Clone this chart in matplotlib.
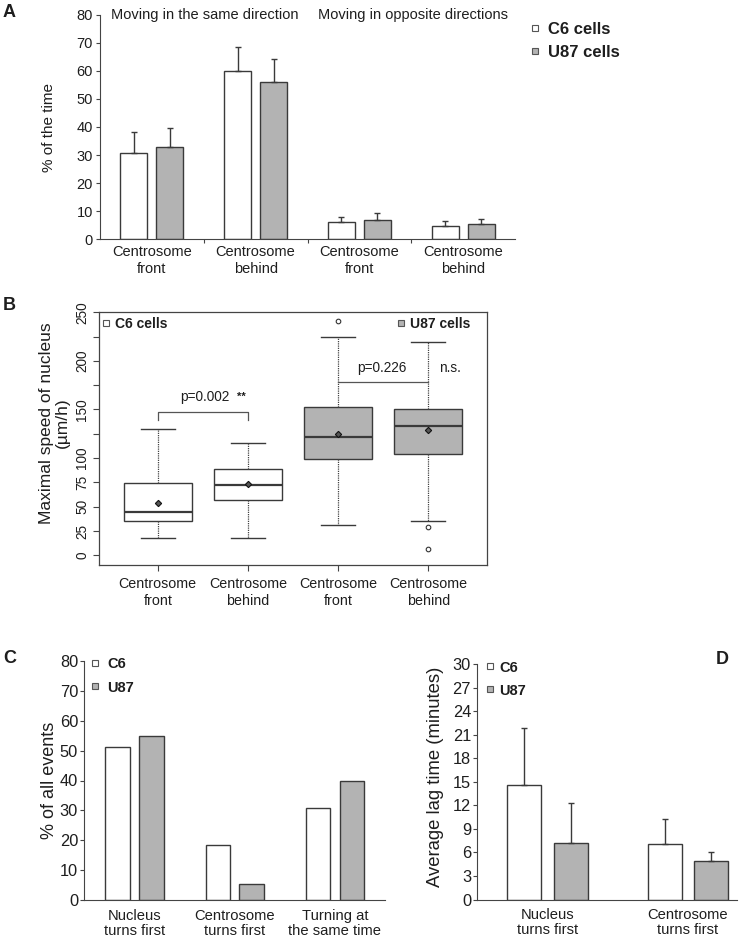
import matplotlib
matplotlib.use('Agg')
import matplotlib.pyplot as plt
from matplotlib.lines import Line2D
import numpy as np

# ---------------- data ----------------
# Panel A
a_groups = ['Centrosome\nfront', 'Centrosome\nbehind', 'Centrosome\nfront', 'Centrosome\nbehind']
a_c6 = [30.6, 59.8, 6.3, 4.7]
a_c6_err = [7.6, 8.6, 1.8, 1.8]
a_u87 = [32.9, 56.0, 6.9, 5.3]
a_u87_err = [6.9, 8.1, 2.4, 2.0]
a_titles = ['Moving in the same direction', 'Moving in opposite directions']
a_yticks = [0, 10, 20, 30, 40, 50, 60, 70, 80]
a_legend = ['C6 cells', 'U87 cells']

# Panel B (box statistics)
b_labels = ['Centrosome\nfront', 'Centrosome\nbehind', 'Centrosome\nfront', 'Centrosome\nbehind']
b_whislo = [18, 18, 31, 35]
b_q1 = [35, 57, 99, 104]
b_med = [45, 72, 122, 133]
b_q3 = [74, 89, 153, 151]
b_whishi = [130, 116, 225, 219]
b_mean = [54, 73, 125, 129]
b_fliers = [[], [], [241], [29, 6]]
b_yticks = [0, 25, 50, 75, 100, 125, 150, 175, 200, 225, 250]
b_ytick_labels = ['0', '25', '50', '75', '100', '', '150', '', '200', '', '250']
b_pvals = ['p=0.002', 'p=0.226']
b_sig = ['**', 'n.s.']
b_bracket_y = [147, 178]

# Panel C
c_groups = ['Nucleus\nturns first', 'Centrosome\nturns first', 'Turning at\nthe same time']
c_c6 = [51.2, 18.4, 30.7]
c_u87 = [54.7, 5.6, 40.0]
c_yticks = [0, 10, 20, 30, 40, 50, 60, 70, 80]

# Panel D
d_groups = ['Nucleus\nturns first', 'Centrosome\nturns first']
d_c6 = [14.6, 7.1]
d_c6_err = [7.2, 3.1]
d_u87 = [7.2, 4.9]
d_u87_err = [5.1, 1.1]
d_yticks = [0, 3, 6, 9, 12, 15, 18, 21, 24, 27, 30]

# ---------------- style ----------------
WHITE = '#ffffff'
GREY = '#b3b3b3'
EDGE = '#3a3a3a'
TXT = '#1e1e1e'
FAM = ['Liberation Sans', 'DejaVu Sans']

plt.rcParams['font.family'] = FAM
plt.rcParams['text.color'] = TXT
plt.rcParams['axes.labelcolor'] = TXT
plt.rcParams['xtick.color'] = '#444444'
plt.rcParams['ytick.color'] = '#444444'
plt.rcParams['xtick.labelcolor'] = TXT
plt.rcParams['ytick.labelcolor'] = TXT
plt.rcParams['axes.edgecolor'] = '#444444'

W, H = 739, 940
fig = plt.figure(figsize=(W / 100, H / 100), dpi=100)


def rect(l, t, r, b):
    return [l / W, 1 - b / H, (r - l) / W, (b - t) / H]


def legend(ax, labels, colors, anchor_px, fontsize, lspace=0.2, tpad=0.6, msize=4.0):
    handles = [Line2D([], [], linestyle='none', marker='s', markersize=msize,
                      markerfacecolor=c, markeredgecolor='#555555', markeredgewidth=0.8)
               for c in colors]
    leg = ax.legend(handles, labels, loc='upper left',
                    bbox_to_anchor=(anchor_px[0] / W, 1 - anchor_px[1] / H),
                    bbox_transform=fig.transFigure, frameon=False,
                    prop={'family': FAM, 'weight': 'bold', 'size': fontsize},
                    handlelength=0.45, handletextpad=tpad, numpoints=1,
                    labelspacing=lspace, borderpad=0, borderaxespad=0)
    return leg


# ---------------- Panel A ----------------
axA = fig.add_axes(rect(100, 14.7, 515, 239.3))
xa = np.arange(len(a_groups))
bw = 0.26
off = 0.174
axA.bar(xa - off, a_c6, bw, color=WHITE, edgecolor=EDGE, linewidth=1.0, zorder=2)
axA.bar(xa + off, a_u87, bw, color=GREY, edgecolor=EDGE, linewidth=1.0, zorder=2)
axA.errorbar(xa - off, a_c6, yerr=[np.zeros(len(a_c6)), a_c6_err], fmt='none',
             ecolor=EDGE, elinewidth=1.0, capsize=2.5, capthick=1.0, zorder=3)
axA.errorbar(xa + off, a_u87, yerr=[np.zeros(len(a_u87)), a_u87_err], fmt='none',
             ecolor=EDGE, elinewidth=1.0, capsize=2.5, capthick=1.0, zorder=3)
axA.set_xlim(-0.5, 3.5)
axA.set_ylim(0, 80)
axA.set_yticks(a_yticks)
axA.tick_params(axis='y', labelsize=10.5, length=3, width=0.8, pad=2)
axA.set_xticks(xa[:-1] + 0.5)
axA.set_xticklabels([])
axA.tick_params(axis='x', which='major', length=3, width=0.8)
axA.set_xticks(xa, minor=True)
axA.set_xticklabels(a_groups, minor=True, fontsize=10.5, linespacing=1.25)
axA.tick_params(axis='x', which='minor', length=0, pad=4)
for s in ['top', 'right']:
    axA.spines[s].set_visible(False)
axA.spines['left'].set_bounds(0, 80)
axA.set_ylabel('% of the time', fontsize=11)
axA.yaxis.set_label_coords(-0.106, 0.5)
axA.text(-0.394, 80, a_titles[0], fontsize=10.5, ha='left', va='center')
axA.text(1.60, 80, a_titles[1], fontsize=10.5, ha='left', va='center')
legend(axA, a_legend, [WHITE, GREY], (531.0, 21.5), 12, lspace=0.5, tpad=0.55, msize=4.0)

# ---------------- Panel B ----------------
axB = fig.add_axes(rect(99, 311.7, 487, 565))
stats = []
for i in range(len(b_labels)):
    stats.append(dict(label=b_labels[i], whislo=b_whislo[i], q1=b_q1[i], med=b_med[i],
                      q3=b_q3[i], whishi=b_whishi[i], mean=b_mean[i], fliers=b_fliers[i]))
pos = np.arange(1, len(b_labels) + 1)
bp = axB.bxp(stats, positions=pos, widths=0.75, capwidths=0.375, patch_artist=True,
             showmeans=True, showfliers=True,
             boxprops=dict(edgecolor=EDGE, linewidth=1.0),
             whiskerprops=dict(color='#444444', linewidth=0.9, linestyle=(0, (1, 0.8))),
             capprops=dict(color=EDGE, linewidth=1.0),
             medianprops=dict(color=EDGE, linewidth=1.6),
             meanprops=dict(marker='D', markerfacecolor='#555555', markeredgecolor='#111111',
                            markersize=3.2, markeredgewidth=0.8),
             flierprops=dict(marker='o', markerfacecolor='white', markeredgecolor='#333333',
                             markersize=3.3, markeredgewidth=0.8))
box_colors = [WHITE, WHITE, GREY, GREY]
for patch, c in zip(bp['boxes'], box_colors):
    patch.set_facecolor(c)
axB.set_xlim(0.348, 4.652)
axB.set_ylim(-10, 250.6)
axB.set_yticks(b_yticks)
axB.set_yticklabels(b_ytick_labels, rotation=90, va='center')
axB.tick_params(axis='y', labelsize=9.8, length=4, width=0.8, pad=3)
axB.set_xticks(pos)
axB.set_xticklabels(b_labels, fontsize=10.3, linespacing=1.25)
axB.tick_params(axis='x', length=4, width=0.8, pad=5)
for s in axB.spines.values():
    s.set_linewidth(0.9)
axB.set_ylabel('Maximal speed of nucleus\n(µm/h)', fontsize=12.5, linespacing=1.05)
axB.yaxis.set_label_coords(-0.075, 0.56)
# bracket 1
axB.plot([pos[0], pos[0], pos[1], pos[1]],
         [b_bracket_y[0] - 8, b_bracket_y[0], b_bracket_y[0], b_bracket_y[0] - 8],
         color='#555555', linewidth=0.9)
axB.text(1.52, 163, b_pvals[0], fontsize=9.8, ha='center', va='center')
axB.text(1.93, 163, b_sig[0], fontsize=8, ha='center', va='center', fontweight='bold')
# bracket 2
axB.plot([pos[2], pos[3]], [b_bracket_y[1], b_bracket_y[1]], color='#555555', linewidth=0.9)
axB.text(3.49, 192.5, b_pvals[1], fontsize=9.8, ha='center', va='center')
axB.text(4.12, 192.5, b_sig[1], fontsize=9.8, ha='left', va='center')
lb1 = legend(axB, ['C6 cells'], [WHITE], (103.0, 316.5), 10, tpad=0.42, msize=4.0)
axB.add_artist(lb1)
legend(axB, ['U87 cells'], [GREY], (398.0, 316.5), 10, tpad=0.42, msize=4.0)

# ---------------- Panel C ----------------
axC = fig.add_axes(rect(84.3, 660.7, 385, 900.3))
xc = np.arange(len(c_groups))
cw = 0.243
coff = 0.169
axC.bar(xc - coff, c_c6, cw, color=WHITE, edgecolor=EDGE, linewidth=1.0, zorder=2)
axC.bar(xc + coff, c_u87, cw, color=GREY, edgecolor=EDGE, linewidth=1.0, zorder=2)
axC.set_xlim(-0.5, 2.5)
axC.set_ylim(0, 80)
axC.set_yticks(c_yticks)
axC.tick_params(axis='y', labelsize=11.8, length=3, width=0.8, pad=1.5)
axC.set_xticks(xc)
axC.set_xticklabels(c_groups, fontsize=10.6, linespacing=1.15)
axC.tick_params(axis='x', length=0, pad=6)
for s in ['top', 'right']:
    axC.spines[s].set_visible(False)
axC.spines['left'].set_bounds(0, 80)
axC.set_ylabel('% of all events', fontsize=13)
axC.yaxis.set_label_coords(-0.086, 0.5)
legend(axC, ['C6', 'U87'], [WHITE, GREY], (92.0, 657.5), 10.5, lspace=0.62, tpad=0.62, msize=4.5)

# ---------------- Panel D ----------------
axD = fig.add_axes(rect(477.3, 664.0, 736.7, 899.5))
xd = np.arange(len(d_groups))
dw = 0.242
doff = 0.167
axD.bar(xd - doff, d_c6, dw, color=WHITE, edgecolor=EDGE, linewidth=1.0, zorder=2)
axD.bar(xd + doff, d_u87, dw, color=GREY, edgecolor=EDGE, linewidth=1.0, zorder=2)
axD.errorbar(xd - doff, d_c6, yerr=[np.zeros(len(d_c6)), d_c6_err], fmt='none',
             ecolor=EDGE, elinewidth=1.0, capsize=2.5, capthick=1.0, zorder=3)
axD.errorbar(xd + doff, d_u87, yerr=[np.zeros(len(d_u87)), d_u87_err], fmt='none',
             ecolor=EDGE, elinewidth=1.0, capsize=2.5, capthick=1.0, zorder=3)
axD.set_xlim(-0.5, 1.347)
axD.set_ylim(0, 30)
axD.set_yticks(d_yticks)
axD.tick_params(axis='y', labelsize=11.8, length=3, width=0.8, pad=1.5)
axD.set_xticks(xd)
axD.set_xticklabels(d_groups, fontsize=10.6, linespacing=1.15)
axD.tick_params(axis='x', length=0, pad=6)
for s in ['top', 'right']:
    axD.spines[s].set_visible(False)
axD.spines['left'].set_bounds(0, 30)
axD.set_ylabel('Average lag time (minutes)', fontsize=13.3)
axD.yaxis.set_label_coords(-0.128, 0.52)
legend(axD, ['C6', 'U87'], [WHITE, GREY], (486.5, 660.5), 10.5, lspace=0.62, tpad=0.4, msize=4.5)

# ---------------- panel letters ----------------
for letter, x, y in [('A', 3, 12.5), ('B', 3, 305), ('C', 3, 658.5), ('D', 716, 659)]:
    fig.text(x / W, 1 - y / H, letter, fontsize=13, fontweight='bold', ha='left', va='center')

fig.savefig('out.png', dpi=100)
